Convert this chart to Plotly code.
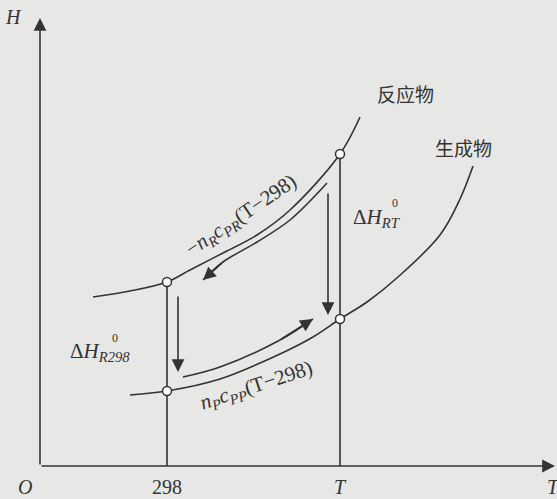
import plotly.graph_objects as go

# ---- data (schematic units: origin at axis intersection) ----
reactant_T = [53, 90, 127, 150, 183, 217, 250, 300, 320]
reactant_H = [169, 175, 184, 196, 213, 231, 256, 312, 349]
product_T = [90, 127, 180, 240, 273, 300, 327, 358, 400, 420, 433]
product_H = [71, 75, 87, 112, 129, 147, 164, 189, 231, 267, 300]
tick_T = [127, 300]
tick_labels = ["298", "T"]
point_T = [127, 300, 127, 300]
point_H = [184, 312, 75, 147]
arrowR_T = [287, 250, 217, 183, 163]
arrowR_H = [283, 246, 224, 204, 186]
arrowP_T = [143, 180, 240, 273]
arrowP_H = [89, 99, 126, 147]
vert298_T = [138, 138]
vert298_H = [171, 94]
vertT_T = [288, 288]
vertT_H = [274, 151]

LC = "#333333"
BG = "#e7e7e5"
SERIF = "Liberation Serif, Times New Roman, serif"
CJK = "Noto Sans CJK SC, sans-serif"

fig = go.Figure()

fig.add_trace(go.Scatter(x=reactant_T, y=reactant_H, mode="lines",
                         line=dict(color=LC, width=1.6, shape="spline"), hoverinfo="skip"))
fig.add_trace(go.Scatter(x=product_T, y=product_H, mode="lines",
                         line=dict(color=LC, width=1.6, shape="spline"), hoverinfo="skip"))
for t, h in zip(tick_T, [point_H[0], point_H[1]]):
    fig.add_trace(go.Scatter(x=[t, t], y=[0, h], mode="lines",
                             line=dict(color=LC, width=1.6), hoverinfo="skip"))
fig.add_trace(go.Scatter(x=arrowR_T, y=arrowR_H, mode="lines",
                         line=dict(color=LC, width=1.6, shape="spline"), hoverinfo="skip"))
fig.add_trace(go.Scatter(x=arrowP_T, y=arrowP_H, mode="lines",
                         line=dict(color=LC, width=1.6, shape="spline"), hoverinfo="skip"))
fig.add_trace(go.Scatter(x=point_T, y=point_H, mode="markers",
                         marker=dict(size=9, color="white", line=dict(color=LC, width=1.5)),
                         hoverinfo="skip"))

def arrow(x0, y0, x1, y1, size=1.6):
    fig.add_annotation(x=x1, y=y1, ax=x0, ay=y0, xref="x", yref="y", axref="x", ayref="y",
                       text="", showarrow=True, arrowhead=2, arrowsize=size, arrowwidth=1.6,
                       arrowcolor=LC, standoff=0, startstandoff=0)

arrow(0, 0, 0, 448)
arrow(0, 0, 515, 0)
arrow(arrowR_T[-2], arrowR_H[-2], arrowR_T[-1], arrowR_H[-1])
arrow(arrowP_T[-2], arrowP_H[-2], arrowP_T[-1], arrowP_H[-1])
arrow(vert298_T[0], vert298_H[0], vert298_T[1], vert298_H[1])
arrow(vertT_T[0], vertT_H[0], vertT_T[1], vertT_H[1])

def label(x, y, text, size=20, font=SERIF, angle=0, xanchor="center"):
    fig.add_annotation(x=x, y=y, xref="x", yref="y", text=text, showarrow=False,
                       font=dict(family=font, size=size, color=LC), textangle=angle,
                       xanchor=xanchor)

label(-27, 449, "<i>H</i>")
label(-15, -21, "<i>O</i>")
for t, s in zip(tick_T, tick_labels):
    label(t, -21, s if s != "T" else "<i>T</i>")
label(513, -21, "<i>T</i>")
label(365, 373, "反应物", size=19, font=CJK)
label(423, 319, "生成物", size=19, font=CJK)
label(337, 248, "Δ<i>H<sub>RT</sub></i>", size=21)
label(355, 263, "0", size=12)
label(60, 114, "Δ<i>H<sub>R298</sub></i>", size=21)
label(75, 128, "0", size=12)
label(201, 250, "−<i>n<sub>R</sub>c<sub>PR</sub></i>(T−298)", size=21, angle=-34)
label(216, 80, "<i>n<sub>P</sub>c<sub>PP</sub></i>(T−298)", size=21, angle=-18)

fig.update_layout(
    width=557, height=499, margin=dict(l=0, r=0, t=0, b=0),
    paper_bgcolor=BG, plot_bgcolor=BG, showlegend=False,
    xaxis=dict(range=[-40, 517], visible=False, fixedrange=True),
    yaxis=dict(range=[-33, 466], visible=False, fixedrange=True),
)
fig.write_html("out.html", config={"displayModeBar": False},
               post_script="document.body.style.margin='0';document.body.style.padding='0';document.body.style.background='%s';" % BG)
